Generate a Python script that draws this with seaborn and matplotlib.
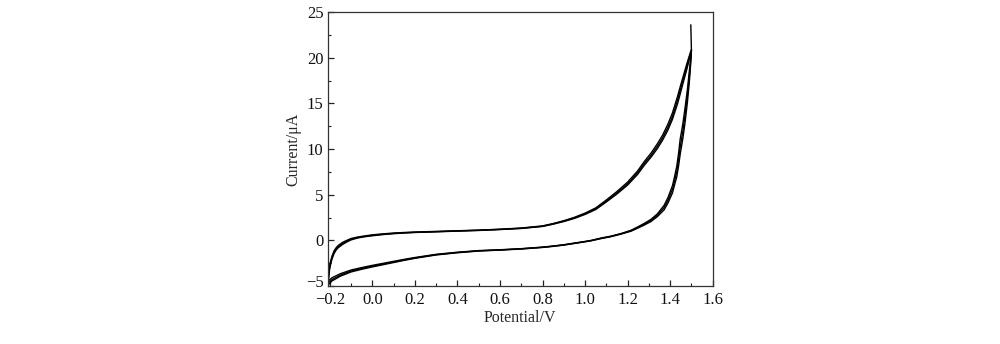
import numpy as np
import pandas as pd
import matplotlib
matplotlib.use("Agg")
import matplotlib.pyplot as plt
from matplotlib.ticker import MultipleLocator
from matplotlib.transforms import ScaledTranslation
import seaborn as sns

# Forward (anodic) sweep potentials, V
FWD_V = [-0.21, -0.205, -0.20, -0.19, -0.18, -0.17, -0.16, -0.14, -0.12, -0.10, -0.07, -0.04,
         0.00, 0.05, 0.10, 0.15, 0.20, 0.30, 0.40, 0.50, 0.60, 0.70, 0.80, 0.85, 0.90, 0.95,
         1.00, 1.05, 1.10, 1.15, 1.20, 1.247, 1.278, 1.31, 1.34, 1.364, 1.388, 1.41, 1.434,
         1.447, 1.46, 1.478, 1.49, 1.50]
# Reverse sweep potentials, V
REV_V = [1.50, 1.495, 1.49, 1.481, 1.47, 1.46, 1.447, 1.44, 1.431, 1.42, 1.411, 1.39, 1.372,
         1.34, 1.31, 1.278, 1.25, 1.216, 1.17, 1.12, 1.075, 1.03, 1.00, 0.95, 0.90, 0.85, 0.80,
         0.70, 0.60, 0.50, 0.40, 0.30, 0.20, 0.15, 0.10, 0.05, 0.00, -0.05, -0.10, -0.15,
         -0.19, -0.21]

# Currents (uA) for three cycles, forward sweep
FWD_I1 = [-4.7, -3.6, -2.8, -1.9, -1.3, -0.95, -0.7, -0.35, -0.1, 0.12, 0.3, 0.42, 0.55, 0.67,
          0.76, 0.83, 0.88, 0.95, 1.03, 1.10, 1.20, 1.32, 1.55, 1.80, 2.10, 2.45, 2.90, 3.45,
          4.3, 5.2, 6.2, 7.4, 8.4, 9.3, 10.3, 11.2, 12.3, 13.5, 15.3, 16.4, 17.5, 19.0, 20.0, 20.8]
FWD_I2 = [-4.9, -3.8, -2.6, -1.75, -1.15, -0.8, -0.55, -0.22, 0.0, 0.2, 0.36, 0.47, 0.6, 0.71,
          0.8, 0.86, 0.91, 0.98, 1.05, 1.12, 1.22, 1.35, 1.58, 1.84, 2.15, 2.52, 2.98, 3.55,
          4.42, 5.35, 6.38, 7.6, 8.62, 9.55, 10.58, 11.5, 12.65, 13.9, 15.7, 16.8, 17.85, 19.3,
          20.2, 20.9]
FWD_I3 = [-5.0, -4.0, -3.0, -2.05, -1.45, -1.05, -0.8, -0.45, -0.18, 0.05, 0.25, 0.38, 0.5, 0.63,
          0.73, 0.8, 0.86, 0.93, 1.01, 1.08, 1.18, 1.3, 1.52, 1.77, 2.06, 2.4, 2.84, 3.37,
          4.2, 5.08, 6.05, 7.22, 8.2, 9.1, 10.05, 10.95, 12.0, 13.2, 14.9, 16.0, 17.15, 18.7,
          19.8, 20.7]

# Currents (uA) for three cycles, reverse sweep
REV_I1 = [20.8, 19.6, 18.5, 16.5, 14.5, 12.8, 11.06, 9.6, 8.1, 6.9, 6.0, 4.7, 3.85, 2.9,
          2.3, 1.85, 1.5, 1.1, 0.75, 0.45, 0.25, 0.0, -0.12, -0.3, -0.48, -0.62, -0.74, -0.91,
          -1.03, -1.12, -1.3, -1.53, -1.88, -2.08, -2.3, -2.52, -2.74, -2.98, -3.25, -3.65,
          -4.1, -4.5]
REV_I2 = [20.9, 19.2, 17.9, 15.8, 13.7, 12.0, 10.2, 8.9, 7.5, 6.45, 5.6, 4.4, 3.6, 2.75,
          2.18, 1.76, 1.43, 1.05, 0.72, 0.42, 0.22, -0.02, -0.14, -0.32, -0.5, -0.64, -0.76,
          -0.93, -1.05, -1.15, -1.33, -1.57, -1.93, -2.14, -2.37, -2.6, -2.83, -3.08, -3.36,
          -3.8, -4.3, -4.75]
REV_I3 = [20.7, 18.8, 17.3, 15.1, 12.9, 11.2, 9.4, 8.2, 6.95, 6.0, 5.2, 4.1, 3.35, 2.6,
          2.06, 1.67, 1.36, 1.0, 0.69, 0.39, 0.19, -0.04, -0.16, -0.34, -0.52, -0.66, -0.78,
          -0.95, -1.07, -1.17, -1.36, -1.6, -1.97, -2.19, -2.43, -2.67, -2.91, -3.17, -3.46,
          -3.92, -4.45, -4.95]

# Initial spike at the switching potential
SPIKE_V = [1.497, 1.50]
SPIKE_I = [23.6, 20.8]

X_TICKS = [-0.2, 0.0, 0.2, 0.4, 0.6, 0.8, 1.0, 1.2, 1.4, 1.6]
Y_TICKS = [-5, 0, 5, 10, 15, 20, 25]

rows = []
for c, (fi, ri) in enumerate([(FWD_I1, REV_I1), (FWD_I2, REV_I2), (FWD_I3, REV_I3)]):
    v = FWD_V + REV_V
    i = fi + ri
    for k, (a, b) in enumerate(zip(v, i)):
        rows.append({"cycle": c + 1, "order": k, "V": a, "I": b})
for k, (a, b) in enumerate(zip(SPIKE_V, SPIKE_I)):
    rows.append({"cycle": 0, "order": k, "V": a, "I": b})
df = pd.DataFrame(rows)

sns.set_style("ticks")
plt.rcParams["font.family"] = ["Liberation Serif", "DejaVu Serif"]
plt.rcParams["axes.unicode_minus"] = True

fig = plt.figure(figsize=(10, 3.44), dpi=100)
ax = fig.add_axes([0.3277, 0.1686, 0.385, 0.7965])

sns.lineplot(data=df, x="V", y="I", units="cycle", estimator=None, sort=False,
             color="black", lw=1.0, ax=ax, legend=False)

ax.set_xlim(-0.21, 1.6)
ax.set_ylim(-5, 25)
ax.set_xticks(X_TICKS)
ax.set_xticklabels([f"{t:.1f}".replace("-", "\u2212") for t in X_TICKS])
ax.set_yticks(Y_TICKS)
ax.set_yticklabels([str(t).replace("-", "\u2212") for t in Y_TICKS])
ax.xaxis.set_minor_locator(MultipleLocator(0.1))
ax.yaxis.set_minor_locator(MultipleLocator(2.5))
ax.tick_params(which="major", direction="in", length=4, width=0.9, labelsize=12,
               colors="#222222", labelcolor="#111111", top=False, right=False)
ax.tick_params(axis="x", which="major", pad=4.5)
ax.tick_params(axis="y", which="major", pad=3)
ax.tick_params(which="minor", direction="in", length=2.5, width=0.8, colors="#222222",
               top=False, right=False)
for s in ax.spines.values():
    s.set_linewidth(0.9)
    s.set_color("#333333")
    s.set_visible(True)

# lift the bottom y label slightly, as in the original, so it clears the x label
low = ax.yaxis.get_major_ticks()[0].label1
low.set_transform(low.get_transform() + ScaledTranslation(0, 3.5 / 72, fig.dpi_scale_trans))

ax.set_xlabel("Potential/V", fontsize=11.5, labelpad=1.5)
ax.set_ylabel("Current/\u03bcA", fontsize=11.5, labelpad=3)

fig.savefig("out.png", dpi=100, facecolor="white")
